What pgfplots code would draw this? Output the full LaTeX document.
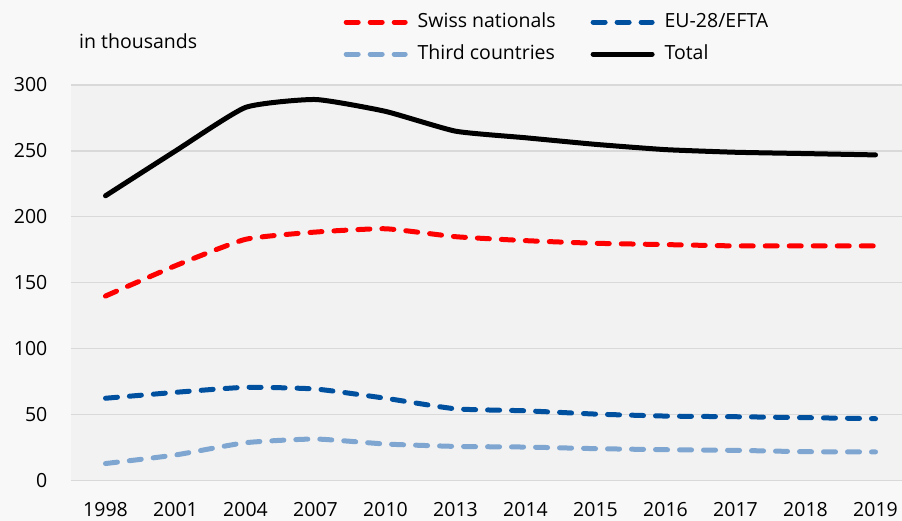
\documentclass[border=0pt]{standalone}
\usepackage{fontspec}
\setmainfont{Open Sans}
\usepackage{pgfplots}
\pgfplotsset{compat=1.18}

\definecolor{swissred}{HTML}{FF0000}
\definecolor{eublue}{HTML}{0050A0}
\definecolor{thirdblue}{HTML}{7FA6D1}
\definecolor{plotbg}{HTML}{F2F2F2}
\definecolor{pagebg}{HTML}{F8F8F8}
\definecolor{gridgray}{HTML}{D9D9D9}

\newcommand{\chartfont}{\fontsize{19.5bp}{23bp}\selectfont}

\begin{document}
\begin{tikzpicture}
\useasboundingbox (0bp,0bp) rectangle (902bp,521bp);
\fill[pagebg] (0bp,0bp) rectangle (902bp,521bp);
\node[anchor=west, inner sep=0pt, font=\chartfont] at (79bp,480bp) {in thousands};
\begin{axis}[
    at={(70.5bp,40.3bp)}, anchor=south west,
    scale only axis,
    width=840bp, height=395.7bp,
    xmin=-0.5, xmax=11.5,
    ymin=0, ymax=300,
    axis background/.style={fill=plotbg},
    axis line style={draw=none},
    xtick={0,...,11},
    xticklabels={1998,2001,2004,2007,2010,2013,2014,2015,2016,2017,2018,2019},
    ytick={0,50,...,300},
    ymajorgrids,
    grid style={gridgray, line width=1.2bp},
    major tick length=0pt,
    tick label style={font=\chartfont, text=black},
    yticklabel style={anchor=east, inner sep=0pt, xshift=-23bp},
    xticklabel style={anchor=north, inner sep=0pt, yshift=-21.5bp},
    /pgf/number format/assume math mode=true,
    legend columns=2,
    legend style={
        at={(0.325,1.182)}, anchor=north west,
        draw=none, fill=none, inner sep=0pt, row sep=14bp,
        nodes={inner sep=0pt, text height=14bp, text depth=4bp, font=\chartfont},
        /tikz/every odd column/.append style={column sep=10bp},
        /tikz/every even column/.append style={column sep=35bp},
    },
    legend cell align=left,
    legend image code/.code={\draw[#1] (0bp,0bp) -- (59bp,0bp);},
    every axis plot/.append style={line width=5bp, smooth, tension=0.3, line cap=round},
]
\addplot[swissred, dash pattern=on 12bp off 12bp] coordinates {
    (0,140) (1,163) (2,183) (3,188.5) (4,191) (5,185)
    (6,182) (7,180) (8,179) (9,178) (10,178) (11,178)};
\addlegendentry{Swiss nationals}
\addplot[eublue, dash pattern=on 12bp off 12bp] coordinates {
    (0,62.5) (1,67) (2,70.8) (3,69.5) (4,62.5) (5,54.5)
    (6,53) (7,50.5) (8,49) (9,48.5) (10,47.8) (11,47)};
\addlegendentry{EU-28/EFTA}
\addplot[thirdblue, dash pattern=on 12bp off 12bp] coordinates {
    (0,13) (1,19.5) (2,28.8) (3,31.6) (4,27.8) (5,26)
    (6,25.5) (7,24.3) (8,23.5) (9,23) (10,22) (11,21.8)};
\addlegendentry{Third countries}
\addplot[black] coordinates {
    (0,216) (1,250) (2,283) (3,289) (4,280) (5,265)
    (6,260) (7,255) (8,251) (9,249) (10,248) (11,247)};
\addlegendentry{Total}
\end{axis}
\end{tikzpicture}
\end{document}
